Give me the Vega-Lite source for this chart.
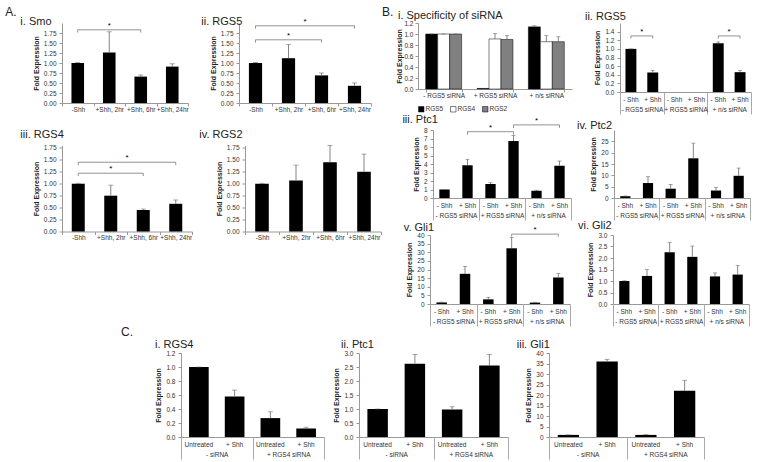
{
"$schema": "https://vega.github.io/schema/vega-lite/v6.json",
"padding": {"left": 5, "top": 5, "right": 2, "bottom": 0},
"config": {
 "view": {"stroke": null},
 "font": "Liberation Sans",
 "axis": {"labelFontSize": 6.5, "labelColor": "#333", "titleFontSize": 7, "titleFontWeight": "bold", "titleColor": "#222", "domainColor": "#999", "tickColor": "#999", "grid": false, "tickSize": 3, "labelPadding": 3, "titlePadding": 4, "labelOverlap": false, "labelFont": "Liberation Sans", "titleFont": "Liberation Sans"},
 "title": {"fontSize": 11, "font": "Liberation Sans", "fontWeight": "normal", "anchor": "start", "color": "#222", "frame": "bounds"},
 "legend": {"labelFont": "Liberation Sans"}
},
"resolve": {"scale": {"fill": "independent"}, "legend": {"fill": "independent"}},
"spacing": -1,
"vconcat": [
 {"spacing": -33, "resolve": {"scale": {"fill": "independent"}, "legend": {"fill": "independent"}}, "hconcat": [
  {"title": {"text": "A.", "fontSize": 12, "offset": -3.5, "dx": -15},
   "spacing": 15.5,
   "vconcat": [
    {"spacing": 12, "hconcat": [
     {"title": {"text": "i. Smo", "offset": -4.7, "dx": -12}, "width": 126, "height": 80,
      "data": {"values": [{"c": "-Shh", "v": 1.0, "hi": 1.01}, {"c": "+Shh, 2hr", "v": 1.26, "hi": 1.78}, {"c": "+Shh, 6hr", "v": 0.66, "hi": 0.70}, {"c": "+Shh, 24hr", "v": 0.91, "hi": 0.98}]},
      "layer": [
       {"mark": {"type": "bar", "color": "#000", "width": {"band": 0.4}},
        "encoding": {"x": {"field": "c", "type": "nominal", "scale": {"domain": ["-Shh", "+Shh, 2hr", "+Shh, 6hr", "+Shh, 24hr"], "paddingInner": 0, "paddingOuter": 0}, "axis": {"title": null, "labelAngle": 0, "tickBand": "extent", "tickSize": 3, "labelPadding": 0}},
         "y": {"field": "v", "type": "quantitative", "scale": {"domain": [0, 2]}, "axis": {"title": "Fold Expression", "tickCount": 20, "values": [0, 0.25, 0.5, 0.75, 1, 1.25, 1.5, 1.75], "format": ".2f"}}}},
       {"transform": [{"filter": "datum.hi != null"}], "mark": {"type": "rule", "color": "#666", "strokeWidth": 0.8}, "encoding": {"x": {"field": "c", "type": "nominal"}, "y": {"field": "v", "type": "quantitative"}, "y2": {"field": "hi"}}},
       {"transform": [{"filter": "datum.hi != null"}], "mark": {"type": "tick", "color": "#666", "size": 5, "thickness": 0.8}, "encoding": {"x": {"field": "c", "type": "nominal"}, "y": {"field": "hi", "type": "quantitative"}}},
       {"data": {"values": [{"a": "-Shh", "b": "+Shh, 6hr", "y": 1.83, "yl": 1.76, "m": "+Shh, 2hr"}]},
        "layer": [
         {"mark": {"type": "rule", "color": "#777", "strokeWidth": 0.8}, "encoding": {"x": {"field": "a", "type": "nominal"}, "x2": {"field": "b"}, "y": {"field": "y", "type": "quantitative"}}},
         {"mark": {"type": "rule", "color": "#777", "strokeWidth": 0.8}, "encoding": {"x": {"field": "a", "type": "nominal"}, "y": {"field": "y", "type": "quantitative"}, "y2": {"field": "yl"}}},
         {"mark": {"type": "rule", "color": "#777", "strokeWidth": 0.8}, "encoding": {"x": {"field": "b", "type": "nominal"}, "y": {"field": "y", "type": "quantitative"}, "y2": {"field": "yl"}}},
         {"transform": [{"filter": "datum.m != null"}], "mark": {"type": "text", "text": "*", "baseline": "bottom", "fontSize": 8}, "encoding": {"x": {"field": "m", "type": "nominal"}, "y": {"field": "y", "type": "quantitative"}}}
        ]}
      ]},
     {"title": {"text": "ii. RGS5", "offset": -8.7, "dx": -8}, "width": 132, "height": 80,
      "data": {"values": [{"c": "-Shh", "v": 1.0, "hi": 1.01}, {"c": "+Shh, 2hr", "v": 1.12, "hi": 1.46}, {"c": "+Shh, 6hr", "v": 0.69, "hi": 0.75}, {"c": "+Shh, 24hr", "v": 0.43, "hi": 0.5}]},
      "layer": [
       {"mark": {"type": "bar", "color": "#000", "width": {"band": 0.4}},
        "encoding": {"x": {"field": "c", "type": "nominal", "scale": {"domain": ["-Shh", "+Shh, 2hr", "+Shh, 6hr", "+Shh, 24hr"], "paddingInner": 0, "paddingOuter": 0}, "axis": {"title": null, "labelAngle": 0, "tickBand": "extent", "tickSize": 3, "labelPadding": 0}},
         "y": {"field": "v", "type": "quantitative", "scale": {"domain": [0, 2]}, "axis": {"title": "Fold Expression", "tickCount": 20, "values": [0, 0.25, 0.5, 0.75, 1, 1.25, 1.5, 1.75], "format": ".2f"}}}},
       {"transform": [{"filter": "datum.hi != null"}], "mark": {"type": "rule", "color": "#666", "strokeWidth": 0.8}, "encoding": {"x": {"field": "c", "type": "nominal"}, "y": {"field": "v", "type": "quantitative"}, "y2": {"field": "hi"}}},
       {"transform": [{"filter": "datum.hi != null"}], "mark": {"type": "tick", "color": "#666", "size": 5, "thickness": 0.8}, "encoding": {"x": {"field": "c", "type": "nominal"}, "y": {"field": "hi", "type": "quantitative"}}},
       {"data": {"values": [{"a": "-Shh", "b": "+Shh, 6hr", "y": 1.58, "yl": 1.51, "m": "+Shh, 2hr"}, {"a": "-Shh", "b": "+Shh, 24hr", "y": 1.93, "yl": 1.86, "me": "+Shh, 2hr"}]},
        "layer": [
         {"mark": {"type": "rule", "color": "#777", "strokeWidth": 0.8}, "encoding": {"x": {"field": "a", "type": "nominal"}, "x2": {"field": "b"}, "y": {"field": "y", "type": "quantitative"}}},
         {"mark": {"type": "rule", "color": "#777", "strokeWidth": 0.8}, "encoding": {"x": {"field": "a", "type": "nominal"}, "y": {"field": "y", "type": "quantitative"}, "y2": {"field": "yl"}}},
         {"mark": {"type": "rule", "color": "#777", "strokeWidth": 0.8}, "encoding": {"x": {"field": "b", "type": "nominal"}, "y": {"field": "y", "type": "quantitative"}, "y2": {"field": "yl"}}},
         {"transform": [{"filter": "datum.m != null"}], "mark": {"type": "text", "text": "*", "baseline": "bottom", "fontSize": 8}, "encoding": {"x": {"field": "m", "type": "nominal"}, "y": {"field": "y", "type": "quantitative"}}},
         {"transform": [{"filter": "datum.me != null"}], "mark": {"type": "text", "text": "*", "baseline": "bottom", "fontSize": 8}, "encoding": {"x": {"field": "me", "type": "nominal", "bandPosition": 1}, "y": {"field": "y", "type": "quantitative"}}}
        ]}
      ]}
    ]},
    {"spacing": 6, "hconcat": [
     {"title": {"text": "iii. RGS4", "offset": 5.25, "dx": -12}, "width": 130, "height": 86,
      "data": {"values": [{"c": "-Shh", "v": 1.0, "hi": 1.01}, {"c": "+Shh, 2hr", "v": 0.75, "hi": 0.97}, {"c": "+Shh, 6hr", "v": 0.45, "hi": 0.47}, {"c": "+Shh, 24hr", "v": 0.58, "hi": 0.66}]},
      "layer": [
       {"mark": {"type": "bar", "color": "#000", "width": {"band": 0.4}},
        "encoding": {"x": {"field": "c", "type": "nominal", "scale": {"domain": ["-Shh", "+Shh, 2hr", "+Shh, 6hr", "+Shh, 24hr"], "paddingInner": 0, "paddingOuter": 0}, "axis": {"title": null, "labelAngle": 0, "tickBand": "extent", "tickSize": 3, "labelPadding": 0}},
         "y": {"field": "v", "type": "quantitative", "scale": {"domain": [0, 1.75]}, "axis": {"title": "Fold Expression", "tickCount": 20, "values": [0, 0.25, 0.5, 0.75, 1, 1.25, 1.5, 1.75], "format": ".2f"}}}},
       {"transform": [{"filter": "datum.hi != null"}], "mark": {"type": "rule", "color": "#666", "strokeWidth": 0.8}, "encoding": {"x": {"field": "c", "type": "nominal"}, "y": {"field": "v", "type": "quantitative"}, "y2": {"field": "hi"}}},
       {"transform": [{"filter": "datum.hi != null"}], "mark": {"type": "tick", "color": "#666", "size": 5, "thickness": 0.8}, "encoding": {"x": {"field": "c", "type": "nominal"}, "y": {"field": "hi", "type": "quantitative"}}},
       {"data": {"values": [{"a": "-Shh", "b": "+Shh, 6hr", "y": 1.22, "yl": 1.16, "m": "+Shh, 2hr"}, {"a": "-Shh", "b": "+Shh, 24hr", "y": 1.45, "yl": 1.39, "me": "+Shh, 2hr"}]},
        "layer": [
         {"mark": {"type": "rule", "color": "#777", "strokeWidth": 0.8}, "encoding": {"x": {"field": "a", "type": "nominal"}, "x2": {"field": "b"}, "y": {"field": "y", "type": "quantitative"}}},
         {"mark": {"type": "rule", "color": "#777", "strokeWidth": 0.8}, "encoding": {"x": {"field": "a", "type": "nominal"}, "y": {"field": "y", "type": "quantitative"}, "y2": {"field": "yl"}}},
         {"mark": {"type": "rule", "color": "#777", "strokeWidth": 0.8}, "encoding": {"x": {"field": "b", "type": "nominal"}, "y": {"field": "y", "type": "quantitative"}, "y2": {"field": "yl"}}},
         {"transform": [{"filter": "datum.m != null"}], "mark": {"type": "text", "text": "*", "baseline": "bottom", "fontSize": 8}, "encoding": {"x": {"field": "m", "type": "nominal"}, "y": {"field": "y", "type": "quantitative"}}},
         {"transform": [{"filter": "datum.me != null"}], "mark": {"type": "text", "text": "*", "baseline": "bottom", "fontSize": 8}, "encoding": {"x": {"field": "me", "type": "nominal", "bandPosition": 1}, "y": {"field": "y", "type": "quantitative"}}}
        ]}
      ]},
     {"title": {"text": "iv. RGS2", "offset": 5.25, "dx": -16}, "width": 136, "height": 86,
      "data": {"values": [{"c": "-Shh", "v": 1.0, "hi": 1.01}, {"c": "+Shh, 2hr", "v": 1.07, "hi": 1.39}, {"c": "+Shh, 6hr", "v": 1.45, "hi": 1.8}, {"c": "+Shh, 24hr", "v": 1.25, "hi": 1.62}]},
      "layer": [
       {"mark": {"type": "bar", "color": "#000", "width": {"band": 0.4}},
        "encoding": {"x": {"field": "c", "type": "nominal", "scale": {"domain": ["-Shh", "+Shh, 2hr", "+Shh, 6hr", "+Shh, 24hr"], "paddingInner": 0, "paddingOuter": 0}, "axis": {"title": null, "labelAngle": 0, "tickBand": "extent", "tickSize": 3, "labelPadding": 0}},
         "y": {"field": "v", "type": "quantitative", "scale": {"domain": [0, 1.75]}, "axis": {"title": "Fold Expression", "tickCount": 20, "values": [0, 0.25, 0.5, 0.75, 1, 1.25, 1.5, 1.75], "format": ".2f"}}}},
       {"transform": [{"filter": "datum.hi != null"}], "mark": {"type": "rule", "color": "#666", "strokeWidth": 0.8}, "encoding": {"x": {"field": "c", "type": "nominal"}, "y": {"field": "v", "type": "quantitative"}, "y2": {"field": "hi"}}},
       {"transform": [{"filter": "datum.hi != null"}], "mark": {"type": "tick", "color": "#666", "size": 5, "thickness": 0.8}, "encoding": {"x": {"field": "c", "type": "nominal"}, "y": {"field": "hi", "type": "quantitative"}}}
      ]}
    ]}
   ]},
  {"title": {"text": "B.", "fontSize": 12, "offset": -9.5},
   "spacing": -2,
   "resolve": {"scale": {"fill": "independent"}, "legend": {"fill": "independent"}},
   "vconcat": [
    {"spacing": 12, "resolve": {"scale": {"fill": "independent"}, "legend": {"fill": "independent"}}, "hconcat": [
     {"width": 1, "height": 10, "data": {"values": []}, "mark": "point"},
     {"title": {"text": "i. Specificity of siRNA", "offset": -0.75, "dx": 2}, "width": 154, "height": 66,
      "data": {"values": [
       {"g": "- RGS5 siRNA", "gene": "RGS5", "v": 1.0, "hi": 1.0},
       {"g": "- RGS5 siRNA", "gene": "RGS4", "v": 1.0, "hi": 1.0},
       {"g": "- RGS5 siRNA", "gene": "RGS2", "v": 1.0, "hi": 1.0},
       {"g": "+ RGS5 siRNA", "gene": "RGS5", "v": 0.01},
       {"g": "+ RGS5 siRNA", "gene": "RGS4", "v": 0.91, "hi": 1.01},
       {"g": "+ RGS5 siRNA", "gene": "RGS2", "v": 0.9, "hi": 0.97},
       {"g": "+ n/s siRNA", "gene": "RGS5", "v": 1.13, "hi": 1.15},
       {"g": "+ n/s siRNA", "gene": "RGS4", "v": 0.86, "hi": 0.97},
       {"g": "+ n/s siRNA", "gene": "RGS2", "v": 0.86, "hi": 0.95}]},
      "layer": [
       {"mark": {"type": "bar", "stroke": "#000", "strokeWidth": 0.5},
        "encoding": {"x": {"field": "g", "type": "nominal", "scale": {"domain": ["- RGS5 siRNA", "+ RGS5 siRNA", "+ n/s siRNA"], "paddingInner": 0.3, "paddingOuter": 0.15}, "axis": {"title": null, "labelAngle": 0, "tickBand": "extent", "tickSize": 3, "labelPadding": 0}},
         "xOffset": {"field": "gene", "type": "nominal", "scale": {"domain": ["RGS5", "RGS4", "RGS2"], "paddingInner": 0}},
         "y": {"field": "v", "type": "quantitative", "scale": {"domain": [0, 1.2]}, "axis": {"title": "Fold Expression", "titlePadding": 1, "labelPadding": 2, "tickCount": 20, "values": [0, 0.2, 0.4, 0.6, 0.8, 1.0, 1.2], "format": ".1f"}},
         "fill": {"field": "gene", "type": "nominal", "scale": {"domain": ["RGS5", "RGS4", "RGS2"], "range": ["#000000", "#ffffff", "#808080"]}, "legend": {"orient": "bottom", "direction": "horizontal", "title": null, "symbolType": "square", "labelFontSize": 6.5, "labelColor": "#333", "symbolSize": 30, "symbolStrokeColor": "#000", "symbolStrokeWidth": 0.5, "columnPadding": 5, "labelOffset": 1, "offset": 7, "padding": 0}}}},
       {"transform": [{"filter": "datum.hi != null"}], "mark": {"type": "rule", "color": "#666", "strokeWidth": 0.8}, "encoding": {"x": {"field": "g", "type": "nominal"}, "xOffset": {"field": "gene", "type": "nominal"}, "y": {"field": "v", "type": "quantitative"}, "y2": {"field": "hi"}}},
       {"transform": [{"filter": "datum.hi != null"}], "mark": {"type": "tick", "color": "#666", "size": 4, "thickness": 0.8}, "encoding": {"x": {"field": "g", "type": "nominal"}, "xOffset": {"field": "gene", "type": "nominal"}, "y": {"field": "hi", "type": "quantitative"}}}
      ]},
     {"title": {"text": "ii. RGS5", "offset": 1.2, "dx": -9}, "width": 131, "height": 69,
      "layer": [
       {"data": {"values": [{"c": "a-", "v": 1.0, "hi": 1.0}, {"c": "a+", "v": 0.45, "hi": 0.5}, {"c": "b-", "v": 0.0}, {"c": "b+", "v": 0.0}, {"c": "c-", "v": 1.13, "hi": 1.16}, {"c": "c+", "v": 0.46, "hi": 0.5}]},
        "layer": [
         {"mark": {"type": "bar", "color": "#000", "width": {"band": 0.5}},
          "encoding": {"x": {"field": "c", "type": "nominal", "scale": {"domain": ["a-", "a+", "b-", "b+", "c-", "c+"], "paddingInner": 0, "paddingOuter": 0}, "axis": {"title": null, "labelAngle": 0, "ticks": false, "labelPadding": 4.5, "labelExpr": "indexof(datum.value, '-') > 0 ? '- Shh' : '+ Shh'"}},
           "y": {"field": "v", "type": "quantitative", "scale": {"domain": [0, 1.44]}, "axis": {"title": "Fold Expression", "tickCount": 20, "values": [0, 0.2, 0.4, 0.6, 0.8, 1.0, 1.2, 1.4], "format": ".1f"}}}},
         {"transform": [{"filter": "datum.hi != null"}], "mark": {"type": "rule", "color": "#666", "strokeWidth": 0.8}, "encoding": {"x": {"field": "c", "type": "nominal"}, "y": {"field": "v", "type": "quantitative"}, "y2": {"field": "hi"}}},
         {"transform": [{"filter": "datum.hi != null"}], "mark": {"type": "tick", "color": "#666", "size": 4, "thickness": 0.8}, "encoding": {"x": {"field": "c", "type": "nominal"}, "y": {"field": "hi", "type": "quantitative"}}},
         {"data": {"values": [{"a": "a-", "b": "a+", "y": 1.3, "yl": 1.24, "me": "a-"}, {"a": "c-", "b": "c+", "y": 1.3, "yl": 1.24, "me": "c-"}]},
          "layer": [
           {"mark": {"type": "rule", "color": "#777", "strokeWidth": 0.8}, "encoding": {"x": {"field": "a", "type": "nominal"}, "x2": {"field": "b"}, "y": {"field": "y", "type": "quantitative"}}},
           {"mark": {"type": "rule", "color": "#777", "strokeWidth": 0.8}, "encoding": {"x": {"field": "a", "type": "nominal"}, "y": {"field": "y", "type": "quantitative"}, "y2": {"field": "yl"}}},
           {"mark": {"type": "rule", "color": "#777", "strokeWidth": 0.8}, "encoding": {"x": {"field": "b", "type": "nominal"}, "y": {"field": "y", "type": "quantitative"}, "y2": {"field": "yl"}}},
           {"transform": [{"filter": "datum.me != null"}], "mark": {"type": "text", "text": "*", "baseline": "bottom", "fontSize": 8}, "encoding": {"x": {"field": "me", "type": "nominal", "bandPosition": 1}, "y": {"field": "y", "type": "quantitative"}}}
          ]}
        ]},
       {"data": {"values": [{"g": "- RGS5 siRNA"}, {"g": "+ RGS5 siRNA"}, {"g": "+ n/s siRNA"}]},
        "mark": {"type": "rule", "opacity": 0},
        "encoding": {"x": {"field": "g", "type": "nominal", "scale": {"domain": ["- RGS5 siRNA", "+ RGS5 siRNA", "+ n/s siRNA"], "paddingInner": 0, "paddingOuter": 0}, "axis": {"title": null, "orient": "bottom", "domain": false, "labelAngle": 0, "tickBand": "extent", "tickSize": 22, "labelPadding": -7.5, "tickColor": "#aaa"}}}}
      ],
      "resolve": {"scale": {"x": "independent"}, "axis": {"x": "independent"}}}
    ]},
    {"spacing": 4, "hconcat": [
     {"width": 16, "height": 10, "data": {"values": []}, "mark": "point"},
     {"title": {"text": "iii. Ptc1", "offset": -7.6, "dx": -10}, "width": 138, "height": 68,
      "layer": [
       {"data": {"values": [{"c": "a-", "v": 1.0, "hi": 1.0}, {"c": "a+", "v": 3.85, "hi": 4.55}, {"c": "b-", "v": 1.65, "hi": 1.8}, {"c": "b+", "v": 6.7, "hi": 7.35}, {"c": "c-", "v": 0.85, "hi": 0.92}, {"c": "c+", "v": 3.8, "hi": 4.35}]},
        "layer": [
         {"mark": {"type": "bar", "color": "#000", "width": {"band": 0.45}},
          "encoding": {"x": {"field": "c", "type": "nominal", "scale": {"domain": ["a-", "a+", "b-", "b+", "c-", "c+"], "paddingInner": 0, "paddingOuter": 0}, "axis": {"title": null, "labelAngle": 0, "ticks": false, "labelPadding": 4.5, "labelExpr": "indexof(datum.value, '-') > 0 ? '- Shh' : '+ Shh'"}},
           "y": {"field": "v", "type": "quantitative", "scale": {"domain": [0, 8]}, "axis": {"title": "Fold Expression", "tickCount": 20, "values": [0, 1, 2, 3, 4, 5, 6, 7, 8], "format": "d"}}}},
         {"transform": [{"filter": "datum.hi != null"}], "mark": {"type": "rule", "color": "#666", "strokeWidth": 0.8}, "encoding": {"x": {"field": "c", "type": "nominal"}, "y": {"field": "v", "type": "quantitative"}, "y2": {"field": "hi"}}},
         {"transform": [{"filter": "datum.hi != null"}], "mark": {"type": "tick", "color": "#666", "size": 4, "thickness": 0.8}, "encoding": {"x": {"field": "c", "type": "nominal"}, "y": {"field": "hi", "type": "quantitative"}}},
         {"data": {"values": [{"a": "a+", "b": "b+", "y": 7.8, "yl": 7.45, "m": "b-"}, {"a": "b+", "b": "c+", "y": 8.6, "yl": 8.25, "m": "c-"}]},
          "layer": [
           {"mark": {"type": "rule", "color": "#777", "strokeWidth": 0.8}, "encoding": {"x": {"field": "a", "type": "nominal"}, "x2": {"field": "b"}, "y": {"field": "y", "type": "quantitative"}}},
           {"mark": {"type": "rule", "color": "#777", "strokeWidth": 0.8}, "encoding": {"x": {"field": "a", "type": "nominal"}, "y": {"field": "y", "type": "quantitative"}, "y2": {"field": "yl"}}},
           {"mark": {"type": "rule", "color": "#777", "strokeWidth": 0.8}, "encoding": {"x": {"field": "b", "type": "nominal"}, "y": {"field": "y", "type": "quantitative"}, "y2": {"field": "yl"}}},
           {"transform": [{"filter": "datum.m != null"}], "mark": {"type": "text", "text": "*", "baseline": "bottom", "fontSize": 8}, "encoding": {"x": {"field": "m", "type": "nominal"}, "y": {"field": "y", "type": "quantitative"}}}
          ]}
        ]},
       {"data": {"values": [{"g": "- RGS5 siRNA"}, {"g": "+ RGS5 siRNA"}, {"g": "+ n/s siRNA"}]},
        "mark": {"type": "rule", "opacity": 0},
        "encoding": {"x": {"field": "g", "type": "nominal", "scale": {"domain": ["- RGS5 siRNA", "+ RGS5 siRNA", "+ n/s siRNA"], "paddingInner": 0, "paddingOuter": 0}, "axis": {"title": null, "orient": "bottom", "domain": false, "labelAngle": 0, "tickBand": "extent", "tickSize": 22, "labelPadding": -7.5, "tickColor": "#aaa"}}}}
      ],
      "resolve": {"scale": {"x": "independent"}, "axis": {"x": "independent"}}},
     {"title": {"text": "iv. Ptc2", "offset": -0.5, "dx": -12.8}, "width": 136, "height": 68,
      "layer": [
       {"data": {"values": [{"c": "a-", "v": 0.8, "hi": 0.9}, {"c": "a+", "v": 6.6, "hi": 9.4}, {"c": "b-", "v": 4.1, "hi": 6.0}, {"c": "b+", "v": 17.5, "hi": 24.2}, {"c": "c-", "v": 3.3, "hi": 4.7}, {"c": "c+", "v": 9.8, "hi": 13.2}]},
        "layer": [
         {"mark": {"type": "bar", "color": "#000", "width": {"band": 0.45}},
          "encoding": {"x": {"field": "c", "type": "nominal", "scale": {"domain": ["a-", "a+", "b-", "b+", "c-", "c+"], "paddingInner": 0, "paddingOuter": 0}, "axis": {"title": null, "labelAngle": 0, "ticks": false, "labelPadding": 4.5, "labelExpr": "indexof(datum.value, '-') > 0 ? '- Shh' : '+ Shh'"}},
           "y": {"field": "v", "type": "quantitative", "scale": {"domain": [0, 28.3]}, "axis": {"title": "Fold Expression", "tickCount": 20, "values": [0, 5, 10, 15, 20, 25], "format": "d"}}}},
         {"transform": [{"filter": "datum.hi != null"}], "mark": {"type": "rule", "color": "#666", "strokeWidth": 0.8}, "encoding": {"x": {"field": "c", "type": "nominal"}, "y": {"field": "v", "type": "quantitative"}, "y2": {"field": "hi"}}},
         {"transform": [{"filter": "datum.hi != null"}], "mark": {"type": "tick", "color": "#666", "size": 4, "thickness": 0.8}, "encoding": {"x": {"field": "c", "type": "nominal"}, "y": {"field": "hi", "type": "quantitative"}}}
        ]},
       {"data": {"values": [{"g": "- RGS5 siRNA"}, {"g": "+ RGS5 siRNA"}, {"g": "+ n/s siRNA"}]},
        "mark": {"type": "rule", "opacity": 0},
        "encoding": {"x": {"field": "g", "type": "nominal", "scale": {"domain": ["- RGS5 siRNA", "+ RGS5 siRNA", "+ n/s siRNA"], "paddingInner": 0, "paddingOuter": 0}, "axis": {"title": null, "orient": "bottom", "domain": false, "labelAngle": 0, "tickBand": "extent", "tickSize": 22, "labelPadding": -7.5, "tickColor": "#aaa"}}}}
      ],
      "resolve": {"scale": {"x": "independent"}, "axis": {"x": "independent"}}}
    ]},
    {"spacing": 6, "hconcat": [
     {"width": 15, "height": 10, "data": {"values": []}, "mark": "point"},
     {"title": {"text": "v. Gli1", "offset": -6.4, "dx": -2}, "width": 140, "height": 69,
      "layer": [
       {"data": {"values": [{"c": "a-", "v": 0.9, "hi": 1.1}, {"c": "a+", "v": 17.5, "hi": 21.8}, {"c": "b-", "v": 2.7, "hi": 3.9}, {"c": "b+", "v": 32.3, "hi": 38.5}, {"c": "c-", "v": 0.8, "hi": 1.0}, {"c": "c+", "v": 15.4, "hi": 17.8}]},
        "layer": [
         {"mark": {"type": "bar", "color": "#000", "width": {"band": 0.45}},
          "encoding": {"x": {"field": "c", "type": "nominal", "scale": {"domain": ["a-", "a+", "b-", "b+", "c-", "c+"], "paddingInner": 0, "paddingOuter": 0}, "axis": {"title": null, "labelAngle": 0, "ticks": false, "labelPadding": 4.5, "labelExpr": "indexof(datum.value, '-') > 0 ? '- Shh' : '+ Shh'"}},
           "y": {"field": "v", "type": "quantitative", "scale": {"domain": [0, 40]}, "axis": {"title": "Fold Expression", "tickCount": 20, "values": [0, 5, 10, 15, 20, 25, 30, 35, 40], "format": "d"}}}},
         {"transform": [{"filter": "datum.hi != null"}], "mark": {"type": "rule", "color": "#666", "strokeWidth": 0.8}, "encoding": {"x": {"field": "c", "type": "nominal"}, "y": {"field": "v", "type": "quantitative"}, "y2": {"field": "hi"}}},
         {"transform": [{"filter": "datum.hi != null"}], "mark": {"type": "tick", "color": "#666", "size": 4, "thickness": 0.8}, "encoding": {"x": {"field": "c", "type": "nominal"}, "y": {"field": "hi", "type": "quantitative"}}},
         {"data": {"values": [{"a": "b+", "b": "c+", "y": 40.5, "yl": 39, "m": "c-"}]},
          "layer": [
           {"mark": {"type": "rule", "color": "#777", "strokeWidth": 0.8}, "encoding": {"x": {"field": "a", "type": "nominal"}, "x2": {"field": "b"}, "y": {"field": "y", "type": "quantitative"}}},
           {"mark": {"type": "rule", "color": "#777", "strokeWidth": 0.8}, "encoding": {"x": {"field": "a", "type": "nominal"}, "y": {"field": "y", "type": "quantitative"}, "y2": {"field": "yl"}}},
           {"mark": {"type": "rule", "color": "#777", "strokeWidth": 0.8}, "encoding": {"x": {"field": "b", "type": "nominal"}, "y": {"field": "y", "type": "quantitative"}, "y2": {"field": "yl"}}},
           {"transform": [{"filter": "datum.m != null"}], "mark": {"type": "text", "text": "*", "baseline": "bottom", "fontSize": 8}, "encoding": {"x": {"field": "m", "type": "nominal"}, "y": {"field": "y", "type": "quantitative"}}}
          ]}
        ]},
       {"data": {"values": [{"g": "- RGS5 siRNA"}, {"g": "+ RGS5 siRNA"}, {"g": "+ n/s siRNA"}]},
        "mark": {"type": "rule", "opacity": 0},
        "encoding": {"x": {"field": "g", "type": "nominal", "scale": {"domain": ["- RGS5 siRNA", "+ RGS5 siRNA", "+ n/s siRNA"], "paddingInner": 0, "paddingOuter": 0}, "axis": {"title": null, "orient": "bottom", "domain": false, "labelAngle": 0, "tickBand": "extent", "tickSize": 22, "labelPadding": -7.5, "tickColor": "#aaa"}}}}
      ],
      "resolve": {"scale": {"x": "independent"}, "axis": {"x": "independent"}}},
     {"title": {"text": "vi. Gli2", "offset": 1.25, "dx": -9}, "width": 136, "height": 69,
      "layer": [
       {"data": {"values": [{"c": "a-", "v": 1.0, "hi": 1.01}, {"c": "a+", "v": 1.22, "hi": 1.5}, {"c": "b-", "v": 2.25, "hi": 2.67}, {"c": "b+", "v": 2.05, "hi": 2.52}, {"c": "c-", "v": 1.2, "hi": 1.35}, {"c": "c+", "v": 1.28, "hi": 1.68}]},
        "layer": [
         {"mark": {"type": "bar", "color": "#000", "width": {"band": 0.45}},
          "encoding": {"x": {"field": "c", "type": "nominal", "scale": {"domain": ["a-", "a+", "b-", "b+", "c-", "c+"], "paddingInner": 0, "paddingOuter": 0}, "axis": {"title": null, "labelAngle": 0, "ticks": false, "labelPadding": 4.5, "labelExpr": "indexof(datum.value, '-') > 0 ? '- Shh' : '+ Shh'"}},
           "y": {"field": "v", "type": "quantitative", "scale": {"domain": [0, 3]}, "axis": {"title": "Fold Expression", "tickCount": 20, "values": [0, 0.5, 1, 1.5, 2, 2.5, 3], "format": ".1f"}}}},
         {"transform": [{"filter": "datum.hi != null"}], "mark": {"type": "rule", "color": "#666", "strokeWidth": 0.8}, "encoding": {"x": {"field": "c", "type": "nominal"}, "y": {"field": "v", "type": "quantitative"}, "y2": {"field": "hi"}}},
         {"transform": [{"filter": "datum.hi != null"}], "mark": {"type": "tick", "color": "#666", "size": 4, "thickness": 0.8}, "encoding": {"x": {"field": "c", "type": "nominal"}, "y": {"field": "hi", "type": "quantitative"}}}
        ]},
       {"data": {"values": [{"g": "- RGS5 siRNA"}, {"g": "+ RGS5 siRNA"}, {"g": "+ n/s siRNA"}]},
        "mark": {"type": "rule", "opacity": 0},
        "encoding": {"x": {"field": "g", "type": "nominal", "scale": {"domain": ["- RGS5 siRNA", "+ RGS5 siRNA", "+ n/s siRNA"], "paddingInner": 0, "paddingOuter": 0}, "axis": {"title": null, "orient": "bottom", "domain": false, "labelAngle": 0, "tickBand": "extent", "tickSize": 22, "labelPadding": -7.5, "tickColor": "#aaa"}}}}
      ],
      "resolve": {"scale": {"x": "independent"}, "axis": {"x": "independent"}}}
    ]}
   ]}
 ]},
 {"spacing": 0, "hconcat": [
  {"width": 58, "height": 10, "data": {"values": []}, "mark": "point"},
  {"title": {"text": "C.", "fontSize": 12, "offset": -0.5, "dx": -34},
   "spacing": 7,
   "hconcat": [
    {"title": {"text": "i. RGS4", "offset": 0.25}, "width": 143, "height": 84,
     "layer": [
      {"data": {"values": [{"c": "a0", "v": 1.0, "hi": 1.0}, {"c": "a1", "v": 0.58, "hi": 0.67}, {"c": "b0", "v": 0.27, "hi": 0.36}, {"c": "b1", "v": 0.12, "hi": 0.14}]},
       "layer": [
        {"mark": {"type": "bar", "color": "#000", "width": {"band": 0.55}},
         "encoding": {"x": {"field": "c", "type": "nominal", "scale": {"domain": ["a0", "a1", "b0", "b1"], "paddingInner": 0, "paddingOuter": 0}, "axis": {"title": null, "labelAngle": 0, "ticks": false, "labelPadding": 4.5, "labelExpr": "indexof(datum.value, '0') > 0 ? 'Untreated' : '+ Shh'"}},
          "y": {"field": "v", "type": "quantitative", "scale": {"domain": [0, 1.2]}, "axis": {"title": "Fold Expression", "tickCount": 20, "values": [0, 0.2, 0.4, 0.6, 0.8, 1.0, 1.2], "format": ".1f"}}}},
        {"transform": [{"filter": "datum.hi != null"}], "mark": {"type": "rule", "color": "#666", "strokeWidth": 0.8}, "encoding": {"x": {"field": "c", "type": "nominal"}, "y": {"field": "v", "type": "quantitative"}, "y2": {"field": "hi"}}},
        {"transform": [{"filter": "datum.hi != null"}], "mark": {"type": "tick", "color": "#666", "size": 5, "thickness": 0.8}, "encoding": {"x": {"field": "c", "type": "nominal"}, "y": {"field": "hi", "type": "quantitative"}}}
       ]},
      {"data": {"values": [{"g": "- siRNA"}, {"g": "+ RGS4 siRNA"}]},
       "mark": {"type": "rule", "opacity": 0},
       "encoding": {"x": {"field": "g", "type": "nominal", "scale": {"domain": ["- siRNA", "+ RGS4 siRNA"], "paddingInner": 0, "paddingOuter": 0}, "axis": {"title": null, "orient": "bottom", "domain": false, "labelAngle": 0, "tickBand": "extent", "tickSize": 22, "labelPadding": -7.5, "tickColor": "#aaa"}}}}
     ],
     "resolve": {"scale": {"x": "independent"}, "axis": {"x": "independent"}}},
    {"title": {"text": "ii. Ptc1", "offset": 0.25, "dx": 8}, "width": 149, "height": 84,
     "layer": [
      {"data": {"values": [{"c": "a0", "v": 1.0, "hi": 1.0}, {"c": "a1", "v": 2.62, "hi": 2.95}, {"c": "b0", "v": 0.98, "hi": 1.08}, {"c": "b1", "v": 2.55, "hi": 2.95}]},
       "layer": [
        {"mark": {"type": "bar", "color": "#000", "width": {"band": 0.55}},
         "encoding": {"x": {"field": "c", "type": "nominal", "scale": {"domain": ["a0", "a1", "b0", "b1"], "paddingInner": 0, "paddingOuter": 0}, "axis": {"title": null, "labelAngle": 0, "ticks": false, "labelPadding": 4.5, "labelExpr": "indexof(datum.value, '0') > 0 ? 'Untreated' : '+ Shh'"}},
          "y": {"field": "v", "type": "quantitative", "scale": {"domain": [0, 3]}, "axis": {"title": "Fold Expression", "tickCount": 20, "values": [0, 0.5, 1, 1.5, 2, 2.5, 3], "format": ".1f"}}}},
        {"transform": [{"filter": "datum.hi != null"}], "mark": {"type": "rule", "color": "#666", "strokeWidth": 0.8}, "encoding": {"x": {"field": "c", "type": "nominal"}, "y": {"field": "v", "type": "quantitative"}, "y2": {"field": "hi"}}},
        {"transform": [{"filter": "datum.hi != null"}], "mark": {"type": "tick", "color": "#666", "size": 5, "thickness": 0.8}, "encoding": {"x": {"field": "c", "type": "nominal"}, "y": {"field": "hi", "type": "quantitative"}}}
       ]},
      {"data": {"values": [{"g": "- siRNA"}, {"g": "+ RGS4 siRNA"}]},
       "mark": {"type": "rule", "opacity": 0},
       "encoding": {"x": {"field": "g", "type": "nominal", "scale": {"domain": ["- siRNA", "+ RGS4 siRNA"], "paddingInner": 0, "paddingOuter": 0}, "axis": {"title": null, "orient": "bottom", "domain": false, "labelAngle": 0, "tickBand": "extent", "tickSize": 22, "labelPadding": -7.5, "tickColor": "#aaa"}}}}
     ],
     "resolve": {"scale": {"x": "independent"}, "axis": {"x": "independent"}}},
    {"title": {"text": "iii. Gli1", "offset": 0.25, "dx": -8}, "width": 155, "height": 84,
     "layer": [
      {"data": {"values": [{"c": "a0", "v": 1.0, "hi": 1.0}, {"c": "a1", "v": 36, "hi": 37}, {"c": "b0", "v": 1.0, "hi": 1.1}, {"c": "b1", "v": 22, "hi": 27}]},
       "layer": [
        {"mark": {"type": "bar", "color": "#000", "width": {"band": 0.55}},
         "encoding": {"x": {"field": "c", "type": "nominal", "scale": {"domain": ["a0", "a1", "b0", "b1"], "paddingInner": 0, "paddingOuter": 0}, "axis": {"title": null, "labelAngle": 0, "ticks": false, "labelPadding": 4.5, "labelExpr": "indexof(datum.value, '0') > 0 ? 'Untreated' : '+ Shh'"}},
          "y": {"field": "v", "type": "quantitative", "scale": {"domain": [0, 40]}, "axis": {"title": "Fold Expression", "tickCount": 20, "values": [0, 5, 10, 15, 20, 25, 30, 35, 40], "format": "d"}}}},
        {"transform": [{"filter": "datum.hi != null"}], "mark": {"type": "rule", "color": "#666", "strokeWidth": 0.8}, "encoding": {"x": {"field": "c", "type": "nominal"}, "y": {"field": "v", "type": "quantitative"}, "y2": {"field": "hi"}}},
        {"transform": [{"filter": "datum.hi != null"}], "mark": {"type": "tick", "color": "#666", "size": 5, "thickness": 0.8}, "encoding": {"x": {"field": "c", "type": "nominal"}, "y": {"field": "hi", "type": "quantitative"}}}
       ]},
      {"data": {"values": [{"g": "- siRNA"}, {"g": "+ RGS4 siRNA"}]},
       "mark": {"type": "rule", "opacity": 0},
       "encoding": {"x": {"field": "g", "type": "nominal", "scale": {"domain": ["- siRNA", "+ RGS4 siRNA"], "paddingInner": 0, "paddingOuter": 0}, "axis": {"title": null, "orient": "bottom", "domain": false, "labelAngle": 0, "tickBand": "extent", "tickSize": 22, "labelPadding": -7.5, "tickColor": "#aaa"}}}}
     ],
     "resolve": {"scale": {"x": "independent"}, "axis": {"x": "independent"}}}
   ]}
 ]}
]
}
